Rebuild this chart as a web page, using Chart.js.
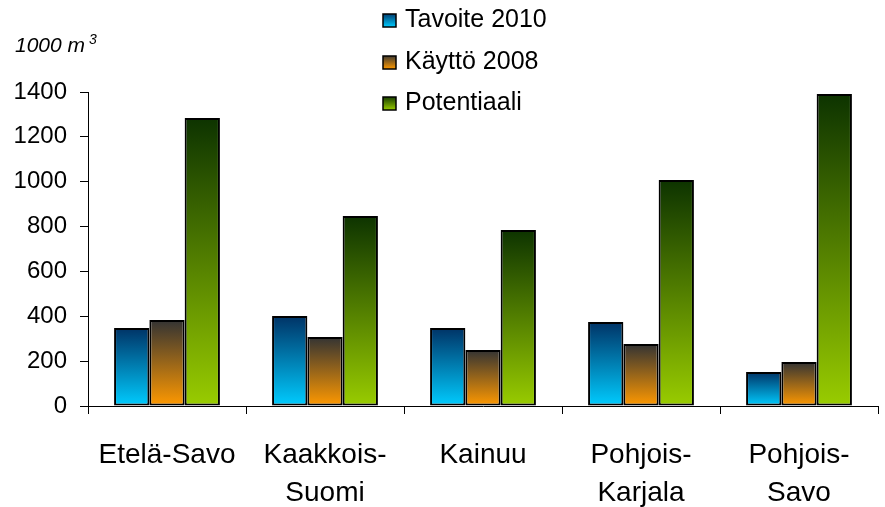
<!DOCTYPE html>
<html>
<head>
<meta charset="utf-8">
<script src="https://cdn.jsdelivr.net/npm/chart.js@4/dist/chart.umd.min.js"></script>
<style>
  html, body { margin:0; padding:0; background:#fff; }
  #wrap { width:885px; height:507px; }
</style>
</head>
<body>
<div id="wrap"><canvas id="chart" width="885" height="507"></canvas></div>
<script>
// ================== Data ==================
const regions = ['Etelä-Savo', ['Kaakkois-', 'Suomi'], 'Kainuu', ['Pohjois-', 'Karjala'], ['Pohjois-', 'Savo']];
const tavoite2010 = [348, 401, 348, 375, 152];
const kaytto2008 = [383, 308, 250, 276, 196];
const potentiaali = [1284, 847, 785, 1008, 1391];
const yTicks = [0, 200, 400, 600, 800, 1000, 1200, 1400];
const unitLabel = '1000 m';

const FONT = '"Liberation Sans", Arial, sans-serif';

// pystysuuntainen liukuväri jokaiselle pylväälle
function grad(top, bottom){
  return (c)=>{
    const chart = c.chart;
    if(!chart.chartArea || c.type !== 'data') return bottom;
    const y = chart.scales.y;
    const t = y.getPixelForValue(c.raw), b = y.getPixelForValue(0);
    const g = chart.ctx.createLinearGradient(0, t, 0, b);
    g.addColorStop(0, top);
    g.addColorStop(1, bottom);
    return g;
  };
}
const palette = [
  ['#003366', '#00CCFF'],
  ['#333333', '#FF9900'],
  ['#0D3300', '#99CC00'],
];

// ================== Plugins ==================
const extras = {
  id: 'extras',
  afterDraw(chart){
    const ctx = chart.ctx;
    ctx.save();
    // yksikkö
    ctx.fillStyle = '#000';
    ctx.textBaseline = 'alphabetic';
    ctx.textAlign = 'left';
    ctx.font = 'italic 21px ' + FONT;
    ctx.fillText(unitLabel, 15, 52);
    const w = ctx.measureText(unitLabel).width;
    ctx.font = 'italic 14px ' + FONT;
    ctx.fillText('3', 15 + w + 4, 44);
    // selite
    ctx.font = '25px ' + FONT;
    ctx.textBaseline = 'middle';
    const ys = [20, 62, 103];
    chart.data.datasets.forEach((ds, i)=>{
      const y = ys[i];
      const g = ctx.createLinearGradient(0, y - 7, 0, y + 7);
      g.addColorStop(0, palette[i][0]);
      g.addColorStop(1, palette[i][1]);
      ctx.fillStyle = g;
      ctx.fillRect(383, y - 6, 13, 13);
      ctx.strokeStyle = '#000';
      ctx.lineWidth = 1.5;
      ctx.strokeRect(383, y - 6, 13, 13);
      ctx.fillStyle = '#000';
      ctx.fillText(ds.label, 405, y);
    });
    ctx.restore();
  }
};

// ================== Chart ==================
const makeSet = (label, data, i)=>({
  label, data,
  backgroundColor: grad(palette[i][0], palette[i][1]),
  borderColor: '#000',
  borderWidth: 2,
  borderSkipped: false,
  categoryPercentage: 0.67,
  barPercentage: 1.0,
});

new Chart(document.getElementById('chart'), {
  type: 'bar',
  data: {
    labels: regions,
    datasets: [
      makeSet('Tavoite 2010', tavoite2010, 0),
      makeSet('Käyttö 2008', kaytto2008, 1),
      makeSet('Potentiaali', potentiaali, 2),
    ]
  },
  options: {
    responsive: false,
    animation: false,
    layout: { padding: { top: 92, right: 7, left: 0, bottom: 0 } },
    plugins: { legend: { display: false }, tooltip: { enabled: false } },
    scales: {
      x: {
        offset: true,
        afterFit: (s)=>{ s.height = 101; },
        grid: { drawOnChartArea: false, color: '#000', tickLength: 8, offset: true },
        border: { display: true, color: '#000', width: 1 },
        ticks: { color: '#000', padding: 22, maxRotation: 0, autoSkip: false,
                 font: { family: FONT, size: 28, lineHeight: 1.36 } },
      },
      y: {
        min: 0, max: 1400,
        afterFit: (s)=>{ s.width = 88; },
        afterBuildTicks: (s)=>{ s.ticks = yTicks.map(v=>({ value: v })); },
        grid: { drawOnChartArea: false, color: '#000', tickLength: 8 },
        border: { display: true, color: '#000', width: 1 },
        ticks: { color: '#000', padding: 13, font: { family: FONT, size: 24 },
                 callback: (v)=>String(v) },
      }
    }
  },
  plugins: [extras]
});
</script>
</body>
</html>
